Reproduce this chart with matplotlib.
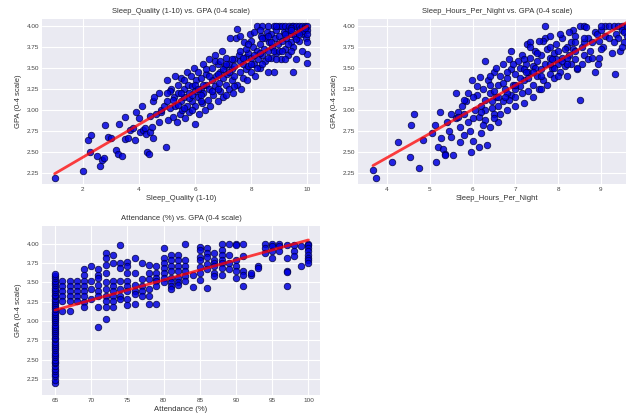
import matplotlib
matplotlib.use("Agg")
import matplotlib.pyplot as plt
import numpy as np

# ---- Sleep_Quality (1-10) vs GPA ----
quality = [
    1.0, 2.0, 2.2, 2.3, 2.25, 2.5, 2.6, 2.7, 2.75, 2.8,
    2.9, 3.0, 3.2, 3.25, 3.3, 3.4, 3.5, 3.5, 3.6, 3.7,
    3.8, 3.85, 3.9, 4.0, 4.05, 4.1, 4.15, 4.2, 4.25, 4.3,
    4.35, 4.4, 4.45, 4.5, 4.5, 4.55, 4.6, 4.4, 4.7, 4.8,
    4.8, 4.9, 4.95, 5.0, 5.0, 5.05, 5.1, 5.15, 5.2, 5.25,
    5.3, 5.3, 5.35, 5.4, 5.4, 5.45, 5.5, 5.5, 5.55, 5.6,
    5.6, 5.65, 5.7, 5.7, 5.75, 5.8, 5.8, 5.85, 5.9, 5.9,
    5.95, 6.0, 6.0, 6.0, 6.05, 6.1, 6.1, 6.15, 6.2, 6.2,
    6.25, 6.3, 6.3, 6.35, 6.4, 6.4, 6.45, 6.5, 6.5, 6.55,
    6.6, 6.6, 6.65, 6.7, 6.7, 6.75, 6.8, 6.8, 6.85, 6.9,
    6.9, 6.95, 7.0, 7.0, 7.05, 7.1, 7.1, 7.15, 7.2, 7.2,
    7.25, 7.3, 7.3, 7.35, 7.4, 7.4, 7.45, 7.5, 7.5, 7.55,
    7.6, 7.6, 7.65, 7.7, 7.7, 7.75, 7.8, 7.8, 7.85, 7.9,
    7.9, 7.95, 8.0, 8.0, 8.05, 8.1, 8.1, 8.15, 8.2, 8.2,
    8.25, 8.3, 8.3, 8.35, 8.4, 8.4, 8.45, 8.5, 8.5, 8.55,
    8.6, 8.6, 8.65, 8.7, 8.7, 8.75, 8.8, 8.8, 8.85, 8.9,
    8.9, 8.95, 9.0, 9.0, 9.05, 9.1, 9.1, 9.15, 9.2, 9.2,
    9.25, 9.3, 9.3, 9.35, 9.4, 9.4, 9.45, 9.5, 9.5, 9.5,
    9.55, 9.6, 9.65, 9.7, 9.7, 9.75, 9.8, 9.85, 9.9, 9.95,
    10.0, 10.0, 10.0, 10.0, 10.0, 9.8, 9.6, 9.9, 9.4, 9.2,
    5.2, 5.4, 5.6, 5.8, 6.0, 6.2, 6.4, 6.6, 6.8, 7.0,
    7.2, 7.4, 7.6, 7.8, 8.0, 8.2, 8.4, 8.6, 8.8, 6.3,
    5.1, 5.5, 5.9, 6.1, 6.7, 7.3, 7.9, 8.3, 8.7, 9.3,
    9.0, 9.4, 9.6, 9.8, 10.0, 8.6, 9.2, 8.4, 8.9, 7.1,
    5.6, 5.9, 6.2, 6.5, 6.8, 7.1, 7.4, 7.7, 8.0, 8.3,
    8.6, 8.9, 9.1, 9.4, 9.7, 6.9, 7.6, 8.1, 5.0, 4.7,
]
quality_gpa = [
    2.19, 2.27, 2.64, 2.70, 2.50, 2.45, 2.33, 2.40, 2.43, 2.82,
    2.68, 2.67, 2.52, 2.48, 2.83, 2.45, 2.91, 2.65, 2.66, 2.76,
    2.79, 2.64, 2.97, 2.90, 2.74, 3.05, 2.76, 2.79, 2.71, 2.50,
    2.48, 2.74, 2.80, 2.67, 3.10, 3.15, 2.95, 2.93, 3.20, 2.97,
    3.00, 3.05, 2.56, 3.35, 3.10, 2.88, 3.02, 3.25, 2.92, 3.15,
    3.40, 3.05, 2.85, 3.20, 3.30, 2.95, 3.10, 3.38, 3.00, 3.25,
    3.15, 2.90, 3.45, 3.05, 3.30, 3.20, 2.98, 3.40, 3.10, 3.28,
    3.50, 2.83, 3.22, 3.05, 3.35, 3.15, 3.45, 2.95, 3.25, 3.38,
    3.08, 3.55, 3.20, 3.00, 3.30, 3.42, 3.12, 3.25, 3.60, 3.05,
    3.35, 3.50, 3.18, 3.65, 3.28, 3.40, 3.10, 3.55, 3.32, 3.45,
    3.22, 3.70, 3.38, 3.15, 3.52, 3.30, 3.62, 3.42, 3.25, 3.55,
    3.85, 3.35, 3.48, 3.20, 3.60, 3.40, 3.85, 3.96, 3.30, 3.65,
    3.45, 3.70, 3.25, 3.55, 3.38, 3.80, 3.63, 3.48, 3.35, 3.68,
    3.52, 3.90, 3.62, 3.45, 3.75, 3.92, 3.55, 3.40, 3.70, 4.00,
    3.60, 3.78, 3.50, 3.88, 3.65, 4.00, 3.72, 3.58, 3.85, 3.92,
    3.70, 4.00, 3.80, 3.62, 3.90, 3.75, 3.45, 4.00, 3.85, 3.68,
    3.95, 3.78, 4.00, 3.88, 3.60, 3.82, 4.00, 3.92, 3.72, 4.00,
    3.85, 3.95, 3.65, 4.00, 3.80, 3.90, 4.00, 3.75, 4.00, 3.45,
    3.88, 4.00, 3.92, 3.82, 4.00, 3.96, 4.00, 3.90, 4.00, 3.85,
    4.00, 3.66, 3.95, 3.90, 3.80, 3.94, 3.84, 3.97, 3.97, 3.90,
    3.12, 3.06, 3.02, 3.14, 3.30, 3.18, 3.48, 3.22, 3.42, 3.48,
    3.45, 3.52, 3.58, 3.72, 3.82, 3.50, 3.55, 3.62, 3.70, 3.30,
    3.22, 3.20, 3.00, 3.25, 3.58, 3.60, 3.78, 3.68, 3.80, 3.78,
    3.70, 3.70, 3.60, 3.70, 3.56, 3.45, 3.60, 3.85, 4.00, 3.18,
    3.35, 3.18, 3.10, 3.40, 3.25, 3.55, 3.28, 3.62, 3.55, 3.95,
    3.88, 3.60, 3.70, 3.95, 3.90, 3.58, 3.88, 3.65, 3.20, 2.85,
]

# ---- Sleep_Hours_Per_Night vs GPA ----
hours = [
    3.67, 3.74, 4.11, 4.25, 4.54, 4.55, 4.64, 4.75, 4.85, 5.14,
    5.12, 5.2, 5.24, 5.31, 5.35, 5.36, 5.4, 5.45, 5.55, 5.6,
    5.65, 5.66, 5.7, 5.75, 5.8, 5.85, 5.9, 5.95, 5.96, 5.98,
    6.0, 6.05, 6.1, 6.15, 6.16, 6.17, 6.2, 6.2, 6.25, 6.3,
    6.3, 6.35, 6.4, 6.4, 6.45, 6.5, 6.5, 6.55, 6.6, 6.6,
    6.65, 6.7, 6.7, 6.75, 6.8, 6.8, 6.85, 6.9, 6.9, 6.95,
    7.0, 7.0, 7.05, 7.1, 7.1, 7.15, 7.2, 7.2, 7.25, 7.27,
    7.3, 7.3, 7.34, 7.35, 7.4, 7.4, 7.45, 7.5, 7.5, 7.55,
    7.6, 7.6, 7.65, 7.69, 7.7, 7.7, 7.75, 7.8, 7.8, 7.85,
    7.9, 7.9, 7.95, 8.0, 8.0, 8.05, 8.1, 8.1, 8.15, 8.2,
    8.2, 8.25, 8.3, 8.3, 8.35, 8.4, 8.4, 8.45, 8.5, 8.5,
    8.55, 8.6, 8.6, 8.66, 8.7, 8.75, 8.8, 8.85, 8.85, 8.9,
    8.92, 8.95, 9.0, 9.05, 9.1, 9.1, 9.2, 9.25, 9.3, 9.33,
    9.35, 9.4, 9.4, 9.45, 9.5, 9.5, 9.55, 9.55, 9.6, 9.6,
    5.5, 5.8, 6.0, 6.3, 6.5, 6.7, 7.0, 7.3, 7.6, 7.9,
    6.1, 6.4, 6.8, 7.2, 7.5, 7.8, 8.1, 8.4, 8.7, 9.0,
    5.05, 5.5, 5.7, 6.55, 6.85, 7.15, 7.45, 7.75, 8.05, 8.35,
    6.25, 6.45, 6.65, 6.95, 7.35, 7.65, 7.95, 8.25, 8.55, 8.95,
    6.33, 5.25, 5.9, 6.6, 7.0, 7.4, 7.8, 8.2, 8.6, 9.2,
    6.0, 6.2, 6.4, 6.6, 6.8, 7.0, 7.2, 7.4, 7.6, 7.8,
    8.0, 8.2, 8.4, 8.6, 8.8, 9.0, 9.3, 9.5, 6.9, 7.1,
    5.6, 5.8, 6.3, 6.5, 6.75, 7.25, 7.55, 7.85, 8.15, 8.45,
]
hours_gpa = [
    2.28, 2.19, 2.38, 2.62, 2.44, 2.82, 2.95, 2.31, 2.64, 2.38,
    2.82, 2.56, 2.98, 2.54, 2.47, 2.46, 2.85, 2.75, 2.46, 2.90,
    2.97, 2.91, 2.80, 3.05, 2.70, 3.10, 2.85, 2.75, 2.50, 3.36,
    2.63, 3.00, 3.18, 2.92, 2.56, 3.39, 2.72, 3.05, 3.25, 2.88,
    3.12, 3.35, 2.80, 3.20, 3.02, 3.45, 2.95, 3.15, 3.30, 3.05,
    3.40, 3.10, 3.55, 3.25, 3.00, 3.38, 3.60, 3.18, 3.48, 3.30,
    3.42, 3.15, 3.58, 3.28, 3.50, 3.65, 3.35, 3.08, 3.55, 3.78,
    3.45, 3.22, 3.80, 3.62, 3.30, 3.52, 3.70, 3.40, 3.58, 3.25,
    3.48, 3.65, 3.35, 3.99, 3.85, 3.55, 3.72, 3.42, 3.62, 3.50,
    3.68, 3.38, 3.78, 3.55, 3.70, 3.45, 3.62, 3.85, 3.52, 3.75,
    3.40, 3.65, 3.80, 3.55, 3.72, 3.60, 3.88, 3.48, 4.00, 3.12,
    3.75, 4.00, 3.65, 3.98, 3.85, 3.70, 3.80, 3.93, 3.45, 3.90,
    3.55, 3.82, 3.95, 3.75, 4.00, 3.88, 4.00, 3.67, 4.00, 3.43,
    3.90, 4.00, 3.85, 3.70, 4.00, 3.95, 3.92, 3.80, 4.00, 3.88,
    2.95, 3.12, 2.90, 3.00, 3.22, 3.32, 3.25, 3.38, 3.40, 3.50,
    3.28, 3.40, 3.20, 3.48, 3.68, 3.75, 3.58, 3.70, 3.60, 3.72,
    2.72, 2.68, 2.62, 3.50, 3.12, 3.20, 3.50, 3.30, 3.90, 3.95,
    2.82, 3.10, 2.95, 3.55, 3.75, 3.82, 3.60, 3.92, 3.55, 3.62,
    2.58, 2.66, 3.20, 3.15, 3.30, 3.45, 3.55, 3.62, 3.80, 3.85,
    3.15, 2.98, 3.30, 2.85, 3.45, 3.05, 3.60, 3.15, 3.25, 3.88,
    3.40, 3.55, 3.80, 3.85, 3.62, 4.00, 3.80, 3.75, 3.70, 3.38,
    3.20, 2.95, 3.58, 2.90, 3.15, 3.45, 3.82, 3.60, 3.72, 3.50,
]

# ---- Attendance (%) vs GPA: GPA values listed per attendance level ----
att_levels = list(range(65, 101))
gpa_at_att = [
    [2.19, 2.24, 2.28, 2.31, 2.35, 2.38, 2.41, 2.45, 2.47, 2.50, 2.53, 2.56,
     2.58, 2.62, 2.65, 2.67, 2.70, 2.73, 2.76, 2.78, 2.82, 2.84, 2.87, 2.90,
     2.92, 2.95, 2.98, 3.01, 3.04, 3.06, 3.09, 3.12, 3.15, 3.18, 3.20, 3.23,
     3.26, 3.29, 3.32, 3.34, 3.37, 3.40, 3.43, 3.46, 3.49, 3.52, 3.55, 3.58,
     3.61],                                              # 65
    [3.52, 3.45, 3.39, 3.32, 3.26, 3.13],                # 66
    [3.52, 3.45, 3.39, 3.32, 3.26, 3.13],                # 67
    [3.52, 3.45, 3.39, 3.32, 3.26],                      # 68
    [3.67, 3.60, 3.52, 3.45, 3.39, 3.32, 3.24, 3.18],    # 69
    [3.71, 3.52, 3.41, 3.28],                            # 70
    [3.67, 3.60, 3.56, 3.47, 3.39, 3.32, 3.18, 2.92],    # 71
    [3.88, 3.82, 3.73, 3.62, 3.50, 3.41, 3.32, 3.26, 3.18, 3.03],  # 72
    [3.85, 3.75, 3.52, 3.45, 3.39, 3.32, 3.26, 3.18],    # 73
    [3.99, 3.75, 3.69, 3.52, 3.41, 3.32, 3.28],          # 74
    [3.77, 3.71, 3.62, 3.52, 3.45, 3.39, 3.28, 3.20],    # 75
    [3.82, 3.62, 3.47, 3.39, 3.35, 3.22],                # 76
    [3.75, 3.54, 3.45, 3.39, 3.32],                      # 77
    [3.73, 3.62, 3.54, 3.41, 3.32, 3.22],                # 78
    [3.71, 3.62, 3.56, 3.52, 3.45, 3.22],                # 79
    [3.95, 3.82, 3.75, 3.69, 3.62, 3.56, 3.50],          # 80
    [3.86, 3.79, 3.71, 3.65, 3.56, 3.50, 3.45, 3.41],    # 81
    [3.86, 3.79, 3.71, 3.65, 3.56, 3.50, 3.47],          # 82
    [4.00, 3.79, 3.71, 3.65, 3.58, 3.52],                # 83
    [3.60, 3.44],                                        # 84
    [3.96, 3.92, 3.83, 3.79, 3.70, 3.62, 3.53],          # 85
    [3.94, 3.88, 3.83, 3.74, 3.67, 3.43],                # 86
    [3.88, 3.79, 3.75, 3.71, 3.62, 3.58],                # 87
    [4.00, 3.92, 3.85, 3.79, 3.75, 3.69, 3.60],          # 88
    [4.00, 3.86, 3.75, 3.67],                            # 89
    [4.00, 3.98, 3.79, 3.71, 3.65, 3.56],                # 90
    [4.00, 3.84, 3.65, 3.60, 3.45],                      # 91
    [3.60, 3.62],                                        # 92
    [3.71, 3.69],                                        # 93
    [4.00, 3.94, 3.88],                                  # 94
    [4.00, 3.97, 3.90, 3.82],                            # 95
    [4.00, 3.97, 3.90],                                  # 96
    [3.98, 3.82, 3.65, 3.63, 3.45],                      # 97
    [3.98, 3.90, 3.84],                                  # 98
    [3.97, 3.71],                                        # 99
    [4.00, 3.98, 3.94, 3.90, 3.86, 3.82, 3.79, 3.75],    # 100
]

attendance = [a for a, col in zip(att_levels, gpa_at_att) for _ in col]
attendance_gpa = [g for col in gpa_at_att for g in col]

plt.style.use("seaborn-v0_8-darkgrid")
fig = plt.figure(figsize=(6.26, 4.2), dpi=100)

panels = [
    ([0.0671, 0.562, 0.4441, 0.393], quality, quality_gpa, "Sleep_Quality (1-10)",
     [2, 4, 6, 8, 10], (0.55, 10.45), (2.12, 4.08)),
    ([0.5719, 0.562, 0.4441, 0.393], hours, hours_gpa, "Sleep_Hours_Per_Night",
     [4, 5, 6, 7, 8, 9], (3.32, 9.82), (2.12, 4.08)),
    ([0.0671, 0.0595, 0.4441, 0.4024], attendance, attendance_gpa, "Attendance (%)",
     [65, 70, 75, 80, 85, 90, 95, 100], (63.2, 101.6), (2.04, 4.23)),
]

for rect, xs, ys, name, xt, xl, yl in panels:
    ax = fig.add_axes(rect)
    xs = np.array(xs)
    ys = np.array(ys)
    ax.scatter(xs, ys, s=22, color="#0000e0", edgecolors="#000040",
               linewidths=0.6, alpha=0.85, zorder=2)
    # least-squares trend line through the points
    slope, icpt = np.polyfit(xs, ys, 1)
    lx = np.array([xs.min(), xs.max()])
    ax.plot(lx, slope * lx + icpt, color="red", lw=2.0, alpha=0.75, zorder=3)
    ax.set_title(f"{name} vs. GPA (0-4 scale)", fontsize=5.5, pad=4, color="#333333")
    ax.set_xlabel(name, fontsize=5.5, labelpad=2, color="#333333")
    ax.set_ylabel("GPA (0-4 scale)", fontsize=5.5, labelpad=3, color="#333333")
    ax.set_xticks(xt)
    ax.set_yticks([2.25, 2.5, 2.75, 3.0, 3.25, 3.5, 3.75, 4.0])
    ax.set_yticklabels([f"{v:.2f}" for v in ax.get_yticks()])
    ax.set_xlim(*xl)
    ax.set_ylim(*yl)
    ax.tick_params(labelsize=4.6, colors="#444444", pad=2, length=0)
    ax.grid(color="white", lw=0.8)

fig.savefig("out.png", dpi=100)
